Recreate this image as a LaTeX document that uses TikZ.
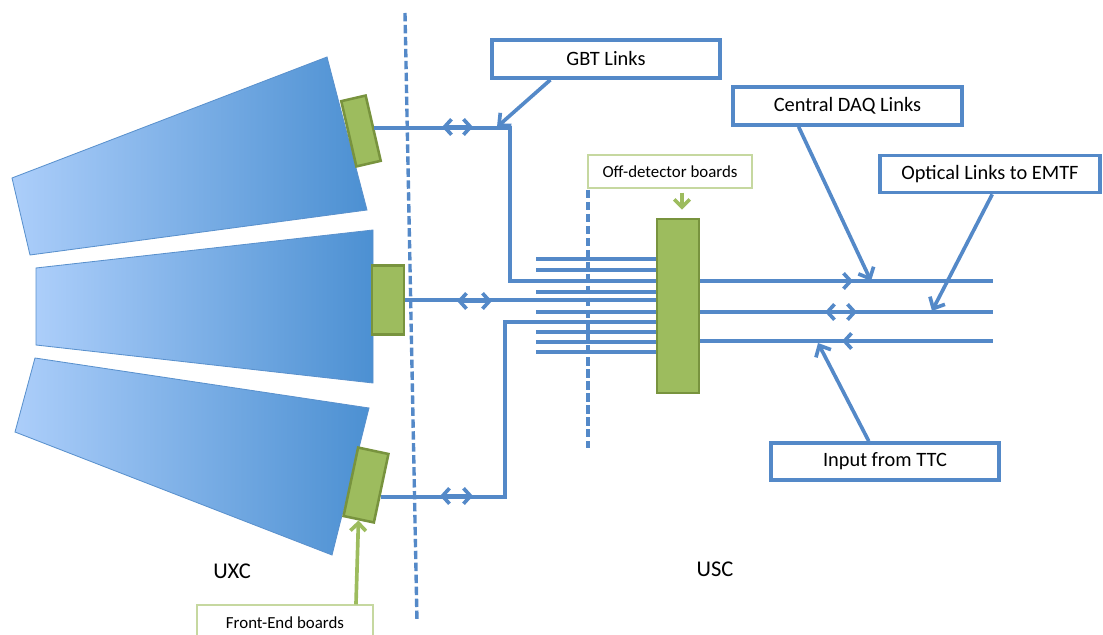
\documentclass[tikz,border=0pt]{standalone}
\usepackage{fontspec}
\setmainfont{Carlito}
\usetikzlibrary{arrows.meta,calc,positioning}
\definecolor{linkblue}{RGB}{84,137,200}
\definecolor{wedgeL}{RGB}{172,206,250}
\definecolor{wedgeR}{RGB}{76,144,210}
\definecolor{wedgeedge}{RGB}{90,145,205}
\definecolor{boardgreen}{RGB}{157,188,94}
\definecolor{boardedge}{RGB}{120,147,62}
\definecolor{labelgreen}{RGB}{198,216,160}

\begin{document}
\begin{tikzpicture}[x=0.025cm, y=-0.025cm, line width=2pt,
  >={Straight Barb[length=5pt,width=11pt]},
  link/.style={draw=linkblue, line width=2.6pt},
  dbl/.style={link, <->},
  wedge/.style={left color=wedgeL, right color=wedgeR, draw=wedgeedge, line width=0.6pt},
  feboard/.style={draw=boardedge, fill=boardgreen, line width=1.8pt},
  callout/.style={draw=linkblue, fill=white, line width=2.6pt, font=\fontsize{14.5}{17}\selectfont},
  callarrow/.style={link, -{Straight Barb[length=6.5pt,width=12pt]}},
  greenlabel/.style={draw=labelgreen, fill=white, line width=1pt, font=\fontsize{12}{14}\selectfont},
  greenarrow/.style={draw=boardgreen, line width=2.6pt, -{Straight Barb[length=5.5pt,width=11pt]}},
  cavern/.style={font=\fontsize{16}{19}\selectfont}]
\useasboundingbox (0,0) rectangle (1103,635);

% detector wedges
\shadedraw[wedge] (12,178) -- (327,57) -- (367,210) -- (30,255) -- cycle;
\shadedraw[wedge] (36,268) -- (373,230) -- (373,383) -- (36,345) -- cycle;
\shadedraw[wedge] (35,358) -- (369,408) -- (332,555) -- (15,432) -- cycle;

% cavern boundaries
\draw[linkblue, line width=2.4pt, dash pattern=on 6pt off 2.5pt] (405,13) -- (417,622);
\draw[linkblue, line width=2.4pt, dash pattern=on 6pt off 2.5pt] (588,190) -- (588,448);

% boards
\node[feboard, minimum width=0.625cm, minimum height=1.675cm, rotate=13] (feA) at (361,131) {};
\node[feboard, minimum width=0.8cm, minimum height=1.725cm] (feB) at (388,300) {};
\node[feboard, minimum width=0.775cm, minimum height=1.75cm, rotate=-12] (feC) at (366,485) {};
\node[feboard, minimum width=1.05cm, minimum height=4.35cm] (odb) at (678,306) {};

% links to the off-detector boards
\coordinate (topbend) at (510,127);
\coordinate (botbend) at (505,496);
\coordinate (feCout) at ($(feC.north east)!0.62!(feC.south east)$);
\draw[link] (feA.east) -- (feA.east -| topbend) |- (odb.west |- 0,281);
\draw[link] (feB.east) -- (feB.east -| odb.west);
\draw[link] (feCout) -- (feCout -| botbend) |- (odb.west |- 0,322);
\foreach \yy in {259,270,292,312,332,342,352}
  \draw[link] (536,\yy) -- (odb.west |- 0,\yy);
\draw[dbl] (442,127) -- (473,127);
\draw[dbl] (457,301) -- (492,301);
\draw[dbl] (440,496) -- (473,496);

% outgoing links
\foreach \yy/\nm in {281/daqout,312/emtfout,341/ttcin}{
  \coordinate (\nm) at (993,\yy);
  \draw[link] (odb.east |- \nm) -- (\nm);
}
\draw[link, ->] (833,281) -- (853,281);
\draw[dbl] (825,312) -- (857,312);
\draw[link, ->] (862,341) -- (842,341);

% callouts
\node[callout, minimum width=5.7cm, minimum height=0.95cm] (gbt) at (606,59) {GBT Links};
\node[callout, minimum width=5.725cm, minimum height=0.95cm] (daq) at (847.5,106) {Central DAQ Links};
\node[callout, minimum width=5.5cm, minimum height=0.925cm] (emtf) at (990,174) {Optical Links to EMTF};
\node[callout, minimum width=5.7cm, minimum height=0.925cm] (ttc) at (885,461.5) {Input from TTC};
\coordinate (gbttip) at (497,127);
\coordinate (daqtip) at (871,281);
\coordinate (emtftip) at (932,311);
\coordinate (ttctip) at (818,343);
\draw[callarrow] ($(gbt.south west)!0.26!(gbt.south east)$) -- (gbttip);
\draw[callarrow] ($(daq.south west)!0.29!(daq.south east)$) -- (daqtip);
\draw[callarrow] ($(emtf.south west)!0.51!(emtf.south east)$) -- (emtftip);
\draw[callarrow] ($(ttc.north west)!0.43!(ttc.north east)$) -- (ttctip);

\node[greenlabel, minimum width=4.1cm, minimum height=0.825cm] (offlbl) at (670,171.5) {Off-detector boards};
\node[greenlabel, minimum width=4.4cm, minimum height=0.9cm] (felbl) at (285,623) {Front-End boards};
\draw[greenarrow] ($(offlbl.south)+(12,4)$) -- ($(odb.north)+(4,-8)$);
\draw[greenarrow] ($(felbl.north west)!0.9!(felbl.north east)$) -- (feC.south);

\node[cavern] (uxc) at (232,571) {UXC};
\node[cavern] (usc) at (715,569) {USC};
\end{tikzpicture}
\end{document}
